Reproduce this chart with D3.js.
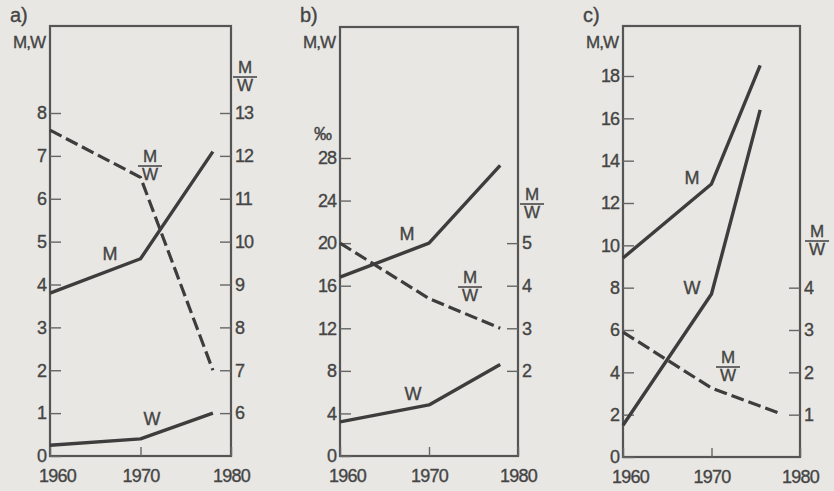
<!DOCTYPE html>
<html>
<head>
<meta charset="utf-8">
<script src="https://cdn.jsdelivr.net/npm/d3@7"></script>
<style>
  body { margin: 0; background: #e8e7e3; }
  svg { display: block; }
  text { font-family: "Liberation Sans", Arial, sans-serif; fill: #454545; stroke: #454545; stroke-width: 0.35px; }
</style>
</head>
<body>
<svg width="834" height="491"></svg>
<script>
// panel a
const aYears = [1960, 1970, 1978];
const aM = [3.8, 4.6, 7.1];
const aW = [0.25, 0.4, 1.0];
const aRatio = [12.6, 11.5, 7.0];
const aLeftTicks = [0, 1, 2, 3, 4, 5, 6, 7, 8];
const aRightTicks = [6, 7, 8, 9, 10, 11, 12, 13];

// panel b
const bYears = [1960, 1970, 1978];
const bM = [16.8, 20.0, 27.3];
const bW = [3.2, 4.8, 8.6];
const bRatio = [5.0, 3.7, 3.0];
const bLeftTicks = [0, 4, 8, 12, 16, 20, 24, 28];
const bRightTicks = [2, 3, 4, 5];

// panel c
const cYears = [1960, 1970, 1975.5];
const cM = [9.4, 12.9, 18.5];
const cW = [1.5, 7.7, 16.4];
const cRatioYears = [1960, 1970, 1977.5];
const cRatio = [2.95, 1.63, 1.05];
const cLeftTicks = [0, 2, 4, 6, 8, 10, 12, 14, 16, 18];
const cRightTicks = [1, 2, 3, 4];

const yearTicks = [1960, 1970, 1980];
const panelNames = ["a)", "b)", "c)"];

const ink = "#3d3d3d";
const svg = d3.select("svg");

const panels = [
    {
        name: panelNames[0], x0: 50, x1: 231, top: 26, bottom: 456,
        left: { domain: [0, 8], range: [456, 113], ticks: aLeftTicks },
        right: { domain: [5, 13], range: [456, 113], ticks: aRightTicks },
        m: aYears.map((y, i) => [y, aM[i]]),
        w: aYears.map((y, i) => [y, aW[i]]),
        ratio: aYears.map((y, i) => [y, aRatio[i]]),
        labM: [110, 260], labW: [152, 425], labR: [150, 149], rightLab: [245, 60]
    },
    {
        name: panelNames[1], x0: 340, x1: 518, top: 27, bottom: 456,
        left: { domain: [0, 28], range: [456, 158], ticks: bLeftTicks },
        right: { domain: [0, 7], range: [456, 158], ticks: bRightTicks },
        m: bYears.map((y, i) => [y, bM[i]]),
        w: bYears.map((y, i) => [y, bW[i]]),
        ratio: bYears.map((y, i) => [y, bRatio[i]]),
        labM: [407, 240], labW: [413, 400], labR: [470, 270], rightLab: [532, 187],
        unit: "‰"
    },
    {
        name: panelNames[2], x0: 623, x1: 800, top: 26, bottom: 457,
        left: { domain: [0, 18], range: [457, 76], ticks: cLeftTicks },
        right: { domain: [0, 9], range: [457, 76], ticks: cRightTicks },
        m: cYears.map((y, i) => [y, cM[i]]),
        w: cYears.map((y, i) => [y, cW[i]]),
        ratio: cRatioYears.map((y, i) => [y, cRatio[i]]),
        labM: [692, 184], labW: [692, 294], labR: [728, 350], rightLab: [817, 224]
    }
];

const fraction = (g, cx, top, size) => {
    const f = g.append("g").attr("transform", `translate(${cx},${top})`);
    f.append("text").attr("x", 0).attr("y", 13)
        .attr("text-anchor", "middle").attr("font-size", size).text("M");
    f.append("line").attr("x1", -12).attr("x2", 12).attr("y1", 17).attr("y2", 17)
        .attr("stroke", "#4a4a4a").attr("stroke-width", 1.6);
    f.append("text").attr("x", 0).attr("y", 31)
        .attr("text-anchor", "middle").attr("font-size", size).text("W");
};

panels.forEach((p) => {
    const g = svg.append("g");
    const x = d3.scaleLinear().domain([1960, 1980]).range([p.x0, p.x1]);
    const yL = d3.scaleLinear().domain(p.left.domain).range(p.left.range);
    const yR = d3.scaleLinear().domain(p.right.domain).range(p.right.range);

    // frame
    g.append("rect")
        .attr("x", p.x0).attr("y", p.top)
        .attr("width", p.x1 - p.x0).attr("height", p.bottom - p.top)
        .attr("fill", "none").attr("stroke", "#555").attr("stroke-width", 2.2);

    const styleAxis = (sel) => {
        sel.attr("font-family", null).attr("font-size", null);
        sel.select(".domain").remove();
        sel.selectAll(".tick line").attr("stroke", "#666").attr("stroke-width", 1.4);
        sel.selectAll(".tick text").attr("font-size", 18).attr("fill", "#454545");
    };

    g.append("g").attr("transform", `translate(${p.x0},0)`)
        .call(d3.axisLeft(yL).tickValues(p.left.ticks).tickFormat(d3.format("d"))
            .tickSizeInner(-11).tickSizeOuter(0).tickPadding(4))
        .call(styleAxis)
        .selectAll(".tick text").attr("letter-spacing", -1);

    g.append("g").attr("transform", `translate(${p.x1},0)`)
        .call(d3.axisRight(yR).tickValues(p.right.ticks).tickFormat(d3.format("d"))
            .tickSizeInner(-11).tickSizeOuter(0).tickPadding(4))
        .call(styleAxis)
        .selectAll(".tick text").attr("letter-spacing", -1);

    g.append("g").attr("transform", `translate(0,${p.bottom})`)
        .call(d3.axisBottom(x).tickValues(yearTicks).tickFormat(d3.format("d"))
            .tickSizeInner(-9).tickSizeOuter(0).tickPadding(13))
        .call(styleAxis)
        .selectAll(".tick text")
        .attr("dx", (d) => d === 1960 ? 7 : 0)
        .attr("letter-spacing", -0.8);

    // lines
    const lineL = d3.line().x((d) => x(d[0])).y((d) => yL(d[1]));
    const lineR = d3.line().x((d) => x(d[0])).y((d) => yR(d[1]));

    g.append("path").datum(p.m).attr("d", lineL)
        .attr("fill", "none").attr("stroke", ink).attr("stroke-width", 3.4)
        .attr("stroke-linejoin", "round");
    g.append("path").datum(p.w).attr("d", lineL)
        .attr("fill", "none").attr("stroke", ink).attr("stroke-width", 3.4)
        .attr("stroke-linejoin", "round");
    g.append("path").datum(p.ratio).attr("d", lineR)
        .attr("fill", "none").attr("stroke", ink).attr("stroke-width", 3.2)
        .attr("stroke-dasharray", "13,5");

    // labels
    g.append("text").attr("x", p.x0 - 40).attr("y", 22).attr("font-size", 20).text(p.name);
    g.append("text").attr("x", p.x0 - 5).attr("y", 48).attr("text-anchor", "end")
        .attr("font-size", 17).attr("letter-spacing", -1).text("M,W");
    if (p.unit) {
        g.append("text").attr("x", p.x0 - 8).attr("y", 140).attr("text-anchor", "end")
            .attr("font-size", 18).text(p.unit);
    }
    g.append("text").attr("x", p.labM[0]).attr("y", p.labM[1]).attr("text-anchor", "middle")
        .attr("font-size", 18).text("M");
    g.append("text").attr("x", p.labW[0]).attr("y", p.labW[1]).attr("text-anchor", "middle")
        .attr("font-size", 18).text("W");
    fraction(g, p.labR[0], p.labR[1], 17);
    fraction(g, p.rightLab[0], p.rightLab[1], 17);
});
</script>
</body>
</html>
